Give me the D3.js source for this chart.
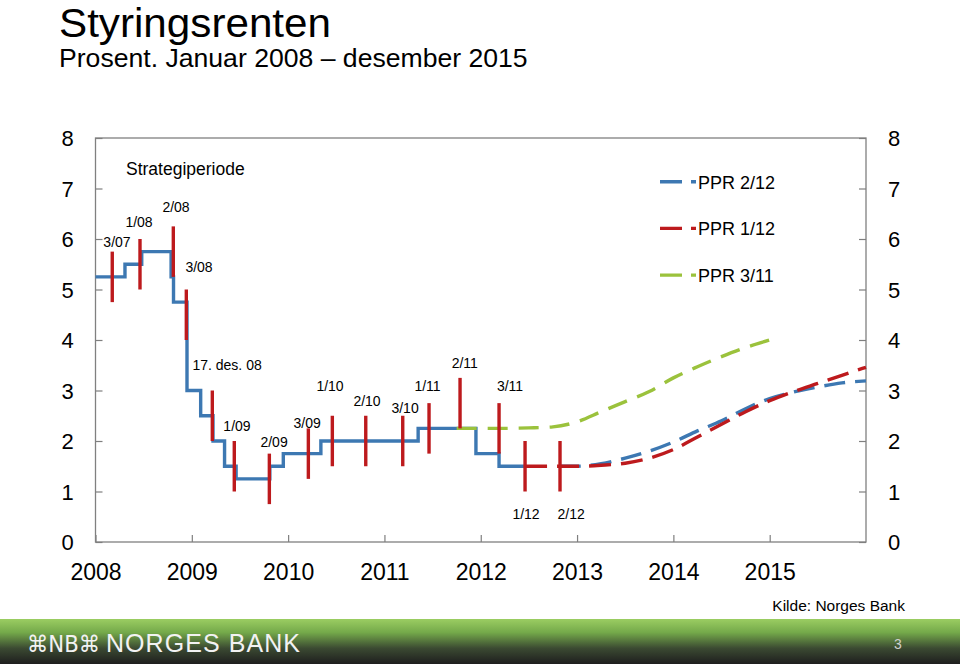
<!DOCTYPE html>
<html>
<head>
<meta charset="utf-8">
<script src="https://cdn.jsdelivr.net/npm/d3@7"></script>
<style>
  html, body { margin: 0; padding: 0; background: #fff; }
  svg { display: block; font-family: "Liberation Sans", Arial, sans-serif; }
</style>
</head>
<body>
<svg id="chart" width="960" height="664"></svg>
<script>
// ---------------- DATA ----------------
const yTicks = [0, 1, 2, 3, 4, 5, 6, 7, 8];
const yearTicks = [2008, 2009, 2010, 2011, 2012, 2013, 2014, 2015];

// Actual key policy rate (step changes), decimal years
const actualDates = [2008.0, 2008.306, 2008.48, 2008.785, 2008.81, 2008.95, 2009.092, 2009.22, 2009.34, 2009.46, 2009.81, 2009.95, 2010.34, 2011.35, 2011.95, 2012.19, 2012.46];
const actualRates = [5.25, 5.5, 5.75, 5.25, 4.75, 3.0, 2.5, 2.0, 1.5, 1.25, 1.5, 1.75, 2.0, 2.25, 1.75, 1.5, 1.5];

// Forecast paths
const ppr311Dates = [2011.75, 2012.0, 2012.25, 2012.5, 2012.75, 2013.0, 2013.25, 2013.5, 2013.75, 2014.0, 2014.25, 2014.5, 2014.75, 2015.0];
const ppr311Rates = [2.25, 2.25, 2.25, 2.26, 2.28, 2.38, 2.58, 2.78, 2.98, 3.25, 3.47, 3.67, 3.85, 4.0];

const ppr112Dates = [2012.46, 2012.75, 2013.0, 2013.25, 2013.5, 2013.75, 2014.0, 2014.25, 2014.5, 2014.75, 2015.0, 2015.25, 2015.5, 2015.75, 2016.0];
const ppr112Rates = [1.5, 1.5, 1.5, 1.52, 1.56, 1.66, 1.83, 2.08, 2.33, 2.58, 2.80, 2.98, 3.14, 3.30, 3.46];

const ppr212Dates = [2012.82, 2013.0, 2013.25, 2013.5, 2013.75, 2014.0, 2014.25, 2014.5, 2014.75, 2015.0, 2015.25, 2015.5, 2015.75, 2016.0];
const ppr212Rates = [1.5, 1.5, 1.55, 1.66, 1.80, 1.98, 2.20, 2.40, 2.64, 2.84, 2.97, 3.07, 3.15, 3.19];

// Strategy period intervals (red bars)
const stratLabels = ["3/07", "1/08", "2/08", "3/08", "17. des. 08", "1/09", "2/09", "3/09", "1/10", "2/10", "3/10", "1/11", "2/11", "3/11", "1/12", "2/12"];
const stratDates  = [2008.174, 2008.462, 2008.808, 2008.943, 2009.213, 2009.441, 2009.805, 2010.21, 2010.459, 2010.806, 2011.19, 2011.463, 2011.785, 2012.19, 2012.46, 2012.823];
const stratLow    = [4.75, 5.0, 5.25, 4.0, 2.0, 1.0, 0.75, 1.25, 1.5, 1.5, 1.5, 1.75, 2.25, 1.75, 1.0, 1.0];
const stratHigh   = [5.75, 6.0, 6.25, 5.0, 3.0, 2.0, 1.75, 2.25, 2.5, 2.5, 2.5, 2.75, 3.25, 2.75, 2.0, 2.0];
// label anchor (centre, baseline) in data units
const stratLabelDates = [2008.223, 2008.452, 2008.836, 2009.075, 2009.366, 2009.469, 2009.854, 2010.197, 2010.435, 2010.819, 2011.214, 2011.447, 2011.834, 2012.304, 2012.47, 2012.938];
const stratLabelRates = [5.84, 6.24, 6.53, 5.35, 3.41, 2.20, 1.88, 2.26, 2.99, 2.69, 2.55, 2.99, 3.45, 2.99, 0.46, 0.46];

const legendLabels = ["PPR 2/12", "PPR 1/12", "PPR 3/11"];

// ---------------- LAYOUT ----------------
const svg = d3.select("#chart");
const L = 95.5, R = 866, T = 138, B = 542;
const x = d3.scaleLinear().domain([2008, 2016]).range([L, R]);
const y = d3.scaleLinear().domain([0, 8]).range([B, T]);

const BLUE = "#3d78b2", RED = "#bd1a1d", GREEN = "#9bc23c";
const lw = 3.4;

// Title
svg.append("text").attr("x", 59).attr("y", 37).attr("font-size", 40.5).attr("fill", "#000")
  .attr("textLength", 272).attr("lengthAdjust", "spacingAndGlyphs").text("Styringsrenten");
svg.append("text").attr("x", 59).attr("y", 67).attr("font-size", 26.6).attr("fill", "#000").text("Prosent. Januar 2008 \u2013 desember 2015");

// Axes
const axStyle = g => {
  g.select(".domain").remove();
  g.selectAll(".tick line").attr("stroke", "#7f7f7f").attr("stroke-width", 1.2);
  g.selectAll("text").attr("fill", "#000").attr("font-family", "Liberation Sans, Arial, sans-serif");
};
const gl = svg.append("g").attr("transform", `translate(${L},0)`)
  .call(d3.axisLeft(y).tickValues(yTicks).tickSize(-7).tickFormat(d3.format("d")));
axStyle(gl);
gl.selectAll("text").attr("x", -28).attr("text-anchor", "middle").attr("font-size", 22).attr("dy", "0.36em");

const gr = svg.append("g").attr("transform", `translate(${R},0)`)
  .call(d3.axisRight(y).tickValues(yTicks).tickSize(-7).tickFormat(d3.format("d")));
axStyle(gr);
gr.selectAll("text").attr("x", 28).attr("text-anchor", "middle").attr("font-size", 22).attr("dy", "0.36em");

const gb = svg.append("g").attr("transform", `translate(0,${B})`)
  .call(d3.axisBottom(x).tickValues(yearTicks).tickSize(-7).tickFormat(d3.format("d")));
axStyle(gb);
gb.selectAll("text").attr("y", 38).attr("dy", 0).attr("font-size", 23).attr("text-anchor", "middle");

// Frame
svg.append("rect").attr("x", L).attr("y", T).attr("width", R - L).attr("height", B - T)
  .attr("fill", "none").attr("stroke", "#808080").attr("stroke-width", 1.3);

// Lines
const lineGen = (curve) => d3.line().x(d => x(d[0])).y(d => y(d[1])).curve(curve);
const zip = (a, b) => a.map((v, i) => [v, b[i]]);

svg.append("path").attr("d", lineGen(d3.curveStepAfter)(zip(actualDates, actualRates)))
  .attr("fill", "none").attr("stroke", BLUE).attr("stroke-width", lw).attr("stroke-linejoin", "miter");

svg.append("path").attr("d", lineGen(d3.curveMonotoneX)(zip(ppr311Dates, ppr311Rates)))
  .attr("fill", "none").attr("stroke", GREEN).attr("stroke-width", lw).attr("stroke-dasharray", "20,11");

svg.append("path").attr("d", lineGen(d3.curveMonotoneX)(zip(ppr212Dates, ppr212Rates)))
  .attr("fill", "none").attr("stroke", BLUE).attr("stroke-width", lw).attr("stroke-dasharray", "21,10");

svg.append("path").attr("d", lineGen(d3.curveMonotoneX)(zip(ppr112Dates, ppr112Rates)))
  .attr("fill", "none").attr("stroke", RED).attr("stroke-width", lw).attr("stroke-dasharray", "22,10");

// Strategy bars
svg.append("g").selectAll("line").data(stratDates).join("line")
  .attr("x1", d => x(d)).attr("x2", d => x(d))
  .attr("y1", (d, i) => y(stratHigh[i])).attr("y2", (d, i) => y(stratLow[i]))
  .attr("stroke", RED).attr("stroke-width", lw);

svg.append("g").selectAll("text").data(stratLabels).join("text")
  .attr("x", (d, i) => x(stratLabelDates[i])).attr("y", (d, i) => y(stratLabelRates[i]))
  .attr("text-anchor", "middle").attr("font-size", 14).attr("fill", "#000").text(d => d);

svg.append("text").attr("x", 126).attr("y", 175).attr("font-size", 17.5).attr("fill", "#000").text("Strategiperiode");

// Legend
const legColors = [BLUE, RED, GREEN];
const lg = svg.append("g");
legendLabels.forEach((lab, i) => {
  const ly = 181.7 + i * 46.7;
  lg.append("line").attr("x1", 660).attr("x2", 696).attr("y1", ly).attr("y2", ly)
    .attr("stroke", legColors[i]).attr("stroke-width", lw).attr("stroke-dasharray", "22,9,5");
  lg.append("text").attr("x", 698).attr("y", ly + 7).attr("font-size", 18).attr("fill", "#000").text(lab);
});

// Source
svg.append("text").attr("x", 905).attr("y", 611).attr("text-anchor", "end").attr("font-size", 15.5)
  .attr("fill", "#000").text("Kilde: Norges Bank");

// Footer banner
const defs = svg.append("defs");
const grad = defs.append("linearGradient").attr("id", "ban").attr("x1", 0).attr("y1", 0).attr("x2", 0).attr("y2", 1);
[[0, "#9bcd62"], [0.3, "#74a94a"], [0.65, "#3b4a32"], [1, "#1e1e1e"]].forEach(s =>
  grad.append("stop").attr("offset", s[0]).attr("stop-color", s[1]));
svg.append("rect").attr("x", 0).attr("y", 619).attr("width", 960).attr("height", 45).attr("fill", "url(#ban)");
svg.append("text").attr("x", 27).attr("y", 652).attr("font-size", 23).attr("fill", "#f2f2f2")
  .attr("font-family", "DejaVu Sans, sans-serif").attr("textLength", 73).attr("lengthAdjust", "spacingAndGlyphs")
  .text("\u2318NB\u2318");
svg.append("text").attr("x", 106).attr("y", 652).attr("font-size", 25).attr("fill", "#f2f2f2")
  .attr("textLength", 194).attr("lengthAdjust", "spacing").text("NORGES BANK");
svg.append("text").attr("x", 898).attr("y", 649).attr("text-anchor", "middle").attr("font-size", 14)
  .attr("fill", "#d0d0d0").text("3");
</script>
</body>
</html>
